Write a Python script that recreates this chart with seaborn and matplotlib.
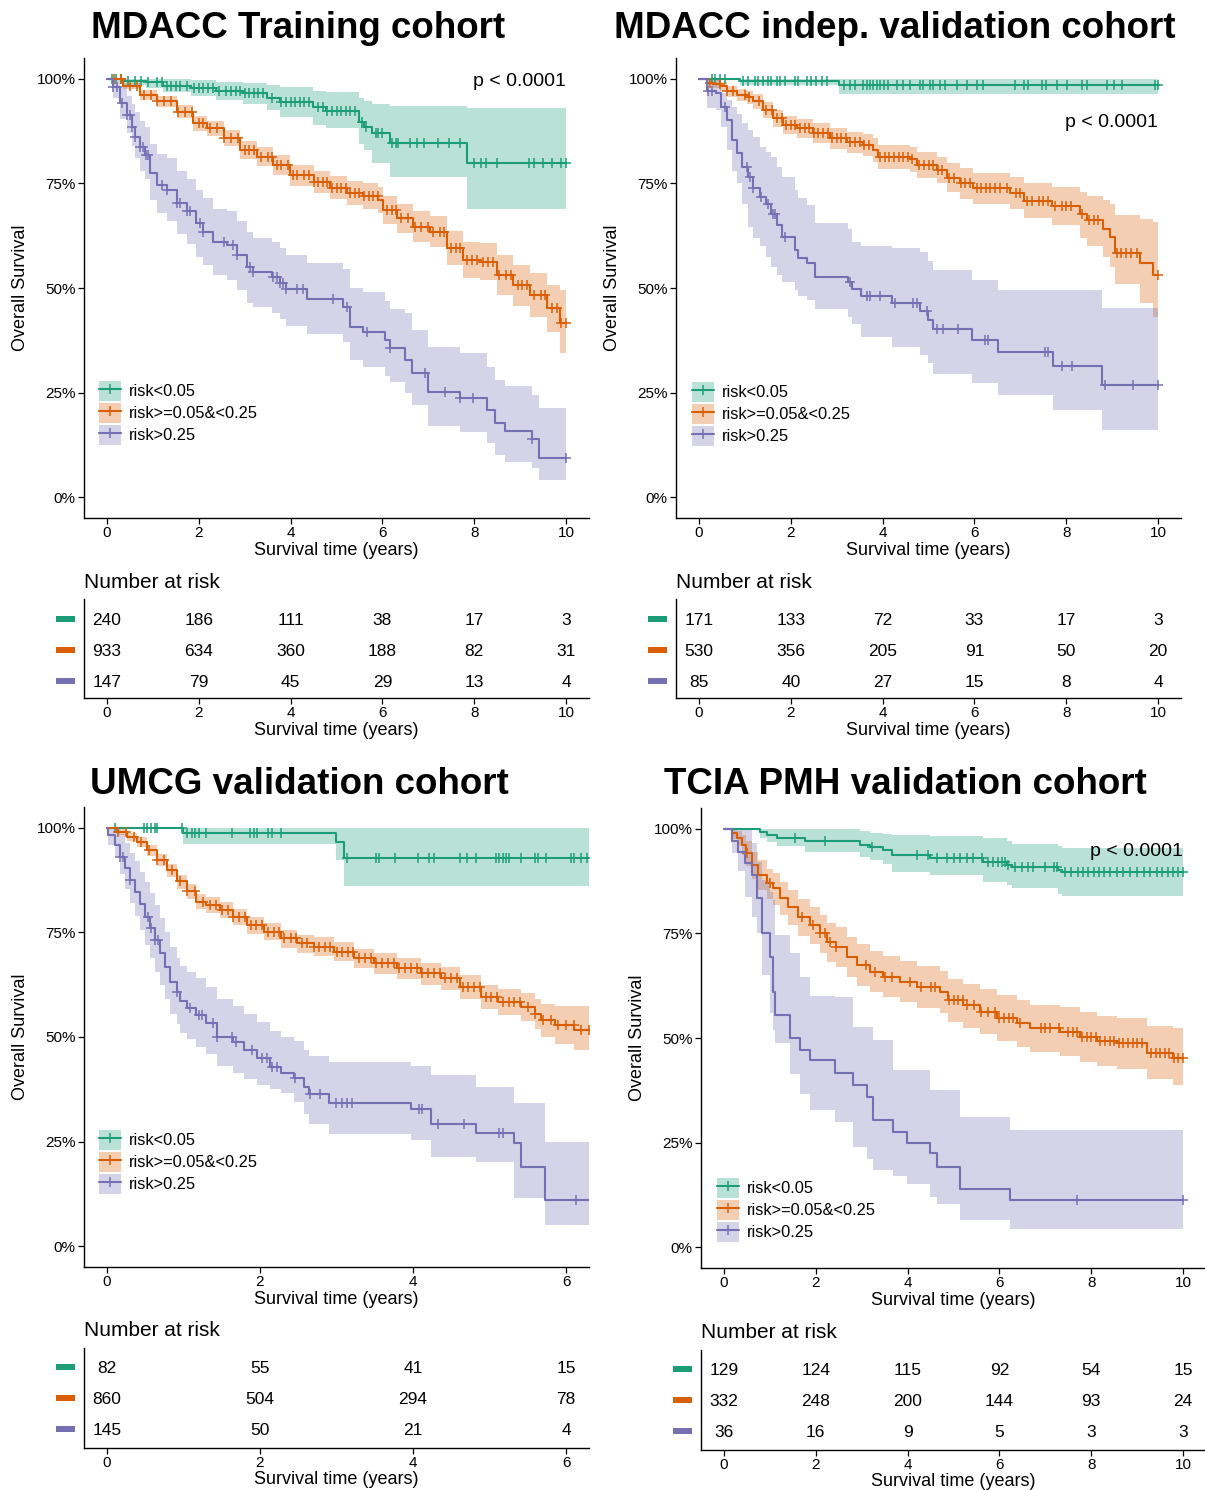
import numpy as np
import matplotlib
matplotlib.use("Agg")
import matplotlib.pyplot as plt
import seaborn as sns
from matplotlib.patches import Patch, Rectangle
from matplotlib.lines import Line2D
from matplotlib.legend_handler import HandlerTuple
import matplotlib.transforms as mtransforms

# ------------------------------------------------------------------ data
groups = ["risk<0.05", "risk>=0.05&<0.25", "risk>0.25"]
colors = ["#1B9E77", "#D95F02", "#7570B3"]

# ---- Panel 1: MDACC Training cohort
p1_g_t = [0, 0.36, 0.86, 1.23, 1.84, 2.38, 2.97, 3.48, 3.77, 4.49, 4.78, 5.48, 5.6, 5.77, 6.17, 7.84]
p1_g_s = [1.0, 0.995, 0.992, 0.983, 0.979, 0.972, 0.966, 0.955, 0.945, 0.934, 0.924, 0.898, 0.886, 0.871, 0.846, 0.80]
p1_g_lo = [1.0, 0.985, 0.978, 0.968, 0.96, 0.95, 0.94, 0.925, 0.91, 0.89, 0.883, 0.845, 0.83, 0.80, 0.766, 0.689]
p1_g_hi = [1.0, 1.0, 1.0, 1.0, 0.997, 0.993, 0.99, 0.985, 0.98, 0.972, 0.969, 0.955, 0.946, 0.94, 0.935, 0.93]
p1_g_c = [0.1, 0.2, 0.3, 0.45, 0.6, 0.75, 0.9, 1.1, 1.2, 1.3, 1.4, 1.5, 1.6, 1.75, 1.9, 2.0, 2.1, 2.2, 2.3,
          2.45, 2.6, 2.7, 2.8, 2.9, 3.0, 3.1, 3.2, 3.3, 3.4, 3.6, 3.8, 3.9, 4.0, 4.1, 4.2, 4.3, 4.4, 4.6, 4.7,
          4.8, 4.9, 5.0, 5.1, 5.2, 5.3, 5.4, 5.55, 5.65, 5.85, 5.9, 6.0, 6.2, 6.3, 6.35, 6.6, 6.75, 6.9, 7.2,
          7.45, 7.7, 8.0, 8.15, 8.25, 8.5, 9.2, 9.3, 9.5, 9.7, 9.9, 10.0]

p1_o_t = [0, 0.36, 0.72, 1.08, 1.52, 1.88, 2.17, 2.54, 2.90, 3.26, 3.62, 3.99, 4.50, 4.86, 5.22, 5.58, 5.91,
          6.02, 6.31, 6.67, 7.04, 7.40, 7.76, 8.13, 8.49, 8.85, 9.22, 9.58, 9.87]
p1_o_s = [1.0, 0.983, 0.962, 0.946, 0.922, 0.894, 0.882, 0.858, 0.830, 0.814, 0.794, 0.770, 0.754, 0.740, 0.728,
          0.720, 0.711, 0.687, 0.667, 0.647, 0.635, 0.595, 0.567, 0.563, 0.531, 0.507, 0.483, 0.451, 0.416]
p1_o_hi = [1.0, 0.991, 0.974, 0.960, 0.938, 0.912, 0.900, 0.877, 0.851, 0.836, 0.817, 0.795, 0.780, 0.768, 0.757,
           0.750, 0.742, 0.720, 0.702, 0.684, 0.673, 0.636, 0.610, 0.607, 0.578, 0.556, 0.535, 0.507, 0.495]
p1_o_lo = [1.0, 0.975, 0.950, 0.932, 0.906, 0.876, 0.864, 0.839, 0.809, 0.792, 0.771, 0.745, 0.728, 0.712, 0.699,
           0.690, 0.680, 0.654, 0.632, 0.610, 0.597, 0.554, 0.524, 0.519, 0.484, 0.458, 0.431, 0.395, 0.345]
p1_o_c = [0.15, 0.3, 0.5, 0.65, 0.8, 0.95, 1.1, 1.25, 1.4, 1.55, 1.7, 1.85, 2.0, 2.1, 2.25, 2.4, 2.55, 2.7, 2.85,
          3.0, 3.1, 3.2, 3.35, 3.5, 3.6, 3.7, 3.8, 3.95, 4.05, 4.15, 4.3, 4.4, 4.5, 4.6, 4.7, 4.8, 4.9, 5.0, 5.1,
          5.2, 5.3, 5.4, 5.5, 5.6, 5.7, 5.8, 5.9, 6.1, 6.2, 6.3, 6.4, 6.55, 6.7, 6.85, 7.0, 7.1, 7.25, 7.35, 7.5,
          7.6, 7.7, 7.85, 7.95, 8.05, 8.2, 8.3, 8.4, 8.55, 8.7, 8.8, 8.95, 9.05, 9.15, 9.3, 9.45, 9.55, 9.7, 9.8,
          9.9, 10.0]

p1_p_t = [0, 0.14, 0.28, 0.43, 0.54, 0.61, 0.72, 0.83, 0.94, 1.08, 1.30, 1.52, 1.74, 1.95, 2.10, 2.32, 2.61, 2.83,
          3.04, 3.19, 3.59, 3.77, 3.91, 4.35, 5.15, 5.30, 5.58, 6.06, 6.17, 6.49, 6.64, 7.00, 7.69, 8.27, 8.45,
          8.67, 9.25, 9.40]
p1_p_s = [1.0, 0.98, 0.942, 0.914, 0.886, 0.862, 0.838, 0.818, 0.774, 0.746, 0.734, 0.703, 0.683, 0.655, 0.635,
          0.611, 0.603, 0.579, 0.551, 0.539, 0.527, 0.511, 0.497, 0.473, 0.455, 0.407, 0.395, 0.376, 0.356, 0.328,
          0.297, 0.252, 0.236, 0.208, 0.176, 0.159, 0.140, 0.093]
p1_p_hi = [1.0, 1.0, 0.98, 0.96, 0.94, 0.92, 0.90, 0.885, 0.845, 0.82, 0.81, 0.78, 0.76, 0.735, 0.715, 0.69, 0.685,
           0.66, 0.635, 0.62, 0.61, 0.595, 0.58, 0.56, 0.545, 0.50, 0.49, 0.47, 0.45, 0.44, 0.40, 0.36, 0.345, 0.31,
           0.28, 0.265, 0.245, 0.212]
p1_p_lo = [1.0, 0.955, 0.905, 0.87, 0.84, 0.81, 0.78, 0.76, 0.71, 0.68, 0.66, 0.63, 0.605, 0.575, 0.555, 0.53,
           0.52, 0.495, 0.465, 0.455, 0.44, 0.425, 0.41, 0.39, 0.37, 0.328, 0.31, 0.29, 0.275, 0.248, 0.22, 0.17,
           0.155, 0.13, 0.10, 0.085, 0.07, 0.04]
p1_p_c = [0.14, 0.21, 0.32, 0.43, 0.50, 0.54, 0.61, 0.72, 0.79, 0.86, 0.90, 1.19, 1.30, 1.52, 1.59, 1.74, 1.81,
          2.03, 2.10, 2.54, 2.75, 2.83, 3.12, 3.19, 3.62, 3.70, 3.77, 3.84, 3.91, 4.13, 4.28, 4.93, 5.22, 5.66,
          6.17, 6.93, 7.36, 7.69, 7.98, 9.25, 10.0]

p1_risk = [[240, 186, 111, 38, 17, 3], [933, 634, 360, 188, 82, 31], [147, 79, 45, 29, 13, 4]]

# ---- Panel 2: MDACC indep. validation cohort
p2_g_t = [0, 0.89, 3.04]
p2_g_s = [1.0, 0.994, 0.985]
p2_g_lo = [1.0, 0.985, 0.963]
p2_g_hi = [1.0, 1.0, 1.0]
p2_g_c = [0.28, 0.35, 0.46, 0.57, 0.97, 1.07, 1.22, 1.29, 1.40, 1.51, 1.58, 1.69, 1.76, 1.87, 2.09, 2.16, 2.35,
          2.45, 2.56, 2.67, 2.78, 3.15, 3.29, 3.40, 3.58, 3.65, 3.72, 3.80, 3.87, 3.94, 4.02, 4.12, 4.31, 4.45,
          4.60, 4.81, 4.89, 5.03, 5.10, 5.25, 5.36, 5.61, 5.83, 6.05, 6.19, 6.88, 7.07, 7.17, 7.47, 7.57, 7.79,
          8.01, 8.34, 8.45, 8.88, 9.03, 9.21, 9.93, 10.0]

p2_o_t = [0, 0.17, 0.31, 0.46, 0.60, 0.82, 1.04, 1.18, 1.40, 1.62, 1.84, 2.13, 2.49, 2.85, 3.22, 3.58, 3.80, 3.91,
          4.60, 4.74, 5.18, 5.40, 5.69, 5.98, 6.78, 7.07, 7.68, 8.30, 8.45, 8.81, 8.95, 9.06, 9.61, 9.90]
p2_o_s = [1.0, 0.99, 0.988, 0.982, 0.97, 0.962, 0.956, 0.946, 0.926, 0.906, 0.890, 0.882, 0.870, 0.858, 0.848,
          0.842, 0.830, 0.814, 0.808, 0.794, 0.782, 0.764, 0.750, 0.738, 0.728, 0.709, 0.696, 0.678, 0.662, 0.642,
          0.623, 0.584, 0.559, 0.531]
p2_o_hi = [1.0, 0.998, 0.997, 0.993, 0.984, 0.977, 0.972, 0.963, 0.945, 0.926, 0.912, 0.905, 0.894, 0.883, 0.874,
           0.869, 0.858, 0.843, 0.838, 0.825, 0.814, 0.798, 0.786, 0.775, 0.766, 0.752, 0.742, 0.73, 0.72, 0.71,
           0.70, 0.675, 0.665, 0.659]
p2_o_lo = [1.0, 0.982, 0.979, 0.971, 0.956, 0.947, 0.94, 0.929, 0.907, 0.886, 0.868, 0.859, 0.846, 0.833, 0.822,
           0.815, 0.802, 0.785, 0.778, 0.763, 0.75, 0.73, 0.714, 0.701, 0.69, 0.667, 0.65, 0.62, 0.60, 0.575, 0.55,
           0.51, 0.465, 0.431]
p2_o_c = [0.25, 0.45, 0.6, 0.75, 1.0, 1.1, 1.3, 1.45, 1.6, 1.7, 1.8, 1.9, 2.0, 2.1, 2.2, 2.3, 2.4, 2.5, 2.6, 2.7,
          2.8, 2.9, 3.0, 3.1, 3.2, 3.3, 3.4, 3.5, 3.6, 3.7, 3.95, 4.05, 4.15, 4.25, 4.35, 4.45, 4.55, 4.65, 4.8,
          4.9, 5.0, 5.1, 5.2, 5.3, 5.45, 5.55, 5.7, 5.8, 5.9, 6.05, 6.15, 6.25, 6.35, 6.45, 6.55, 6.7, 6.9, 7.0,
          7.15, 7.25, 7.4, 7.5, 7.6, 7.75, 7.9, 8.0, 8.1, 8.35, 8.5, 8.6, 8.7, 9.1, 9.2, 9.3, 9.4, 9.55, 10.0]

p2_p_t = [0, 0.17, 0.38, 0.49, 0.60, 0.71, 0.82, 0.93, 1.07, 1.18, 1.33, 1.47, 1.58, 1.69, 1.80, 2.09, 2.16, 2.35,
          2.53, 3.25, 3.33, 3.54, 4.20, 4.81, 4.98, 5.10, 5.94, 6.52, 7.72, 8.77]
p2_p_s = [1.0, 0.97, 0.966, 0.934, 0.902, 0.854, 0.822, 0.790, 0.766, 0.738, 0.718, 0.702, 0.678, 0.650, 0.623,
          0.591, 0.571, 0.559, 0.527, 0.515, 0.497, 0.481, 0.463, 0.446, 0.423, 0.403, 0.375, 0.346, 0.313, 0.268]
p2_p_hi = [1.0, 1.0, 1.0, 0.966, 0.95, 0.934, 0.915, 0.895, 0.878, 0.86, 0.838, 0.825, 0.814, 0.79, 0.765, 0.735,
           0.715, 0.699, 0.655, 0.64, 0.611, 0.60, 0.595, 0.587, 0.565, 0.543, 0.519, 0.495, 0.495, 0.451]
p2_p_lo = [1.0, 0.93, 0.925, 0.886, 0.83, 0.78, 0.75, 0.70, 0.646, 0.62, 0.60, 0.575, 0.551, 0.53, 0.515, 0.495,
           0.482, 0.472, 0.45, 0.43, 0.415, 0.384, 0.36, 0.34, 0.32, 0.295, 0.272, 0.244, 0.208, 0.16]
p2_p_c = [0.20, 0.28, 0.57, 1.04, 1.11, 1.18, 1.36, 1.51, 1.62, 1.66, 1.87, 3.29, 3.65, 3.72, 3.94, 4.27, 4.67,
          4.74, 4.96, 5.18, 5.32, 5.65, 6.23, 6.30, 7.54, 7.61, 7.90, 8.12, 8.84, 9.46, 10.0]

p2_risk = [[171, 133, 72, 33, 17, 3], [530, 356, 205, 91, 50, 20], [85, 40, 27, 15, 8, 4]]

# ---- Panel 3: UMCG validation cohort
p3_g_t = [0, 1.0, 2.99, 3.10]
p3_g_s = [1.0, 0.987, 0.967, 0.927]
p3_g_lo = [1.0, 0.962, 0.923, 0.861]
p3_g_hi = [1.0, 1.0, 1.0, 1.0]
p3_g_c = [0.10, 0.48, 0.52, 0.58, 0.63, 0.65, 0.98, 1.04, 1.11, 1.15, 1.20, 1.30, 1.63, 1.87, 1.92, 1.96, 2.11,
          2.16, 2.27, 3.14, 3.51, 3.55, 3.77, 4.06, 4.21, 4.27, 4.62, 4.71, 4.82, 5.08, 5.13, 5.17, 5.22, 5.26,
          5.41, 5.59, 5.63, 5.74, 6.06, 6.11, 6.20, 6.28]

p3_o_t = [0, 0.13, 0.26, 0.39, 0.52, 0.65, 0.78, 0.91, 1.04, 1.17, 1.30, 1.48, 1.65, 1.83, 2.05, 2.27, 2.48, 2.70,
          2.97, 3.23, 3.49, 3.79, 4.10, 4.36, 4.62, 4.89, 5.11, 5.41, 5.59, 5.67, 5.85, 6.11]
p3_o_s = [1.0, 0.991, 0.979, 0.967, 0.947, 0.923, 0.899, 0.872, 0.848, 0.824, 0.816, 0.804, 0.788, 0.768, 0.752,
          0.736, 0.724, 0.716, 0.704, 0.688, 0.676, 0.664, 0.652, 0.640, 0.620, 0.596, 0.584, 0.572, 0.556, 0.540,
          0.528, 0.516]
p3_o_hi = [1.0, 0.997, 0.988, 0.978, 0.960, 0.937, 0.914, 0.888, 0.865, 0.841, 0.834, 0.822, 0.807, 0.788, 0.772,
           0.757, 0.745, 0.738, 0.726, 0.711, 0.700, 0.689, 0.678, 0.667, 0.648, 0.625, 0.615, 0.605, 0.592, 0.580,
           0.573, 0.573]
p3_o_lo = [1.0, 0.984, 0.969, 0.955, 0.933, 0.908, 0.883, 0.855, 0.830, 0.806, 0.797, 0.785, 0.768, 0.747, 0.731,
           0.714, 0.702, 0.693, 0.681, 0.664, 0.651, 0.638, 0.625, 0.612, 0.591, 0.566, 0.552, 0.538, 0.519, 0.499,
           0.484, 0.469]
p3_o_c = [0.15, 0.25, 0.35, 0.45, 0.55, 0.65, 0.75, 0.85, 0.95, 1.05, 1.15, 1.25, 1.35, 1.42, 1.5, 1.58, 1.65,
          1.72, 1.8, 1.88, 1.95, 2.02, 2.1, 2.18, 2.25, 2.32, 2.4, 2.47, 2.55, 2.62, 2.7, 2.77, 2.85, 2.92, 3.0,
          3.07, 3.15, 3.22, 3.3, 3.37, 3.45, 3.52, 3.6, 3.67, 3.75, 3.82, 3.9, 3.97, 4.05, 4.12, 4.2, 4.27, 4.35,
          4.42, 4.5, 4.57, 4.65, 4.72, 4.8, 4.87, 4.95, 5.02, 5.1, 5.17, 5.25, 5.32, 5.4, 5.5, 5.6, 5.7, 5.8, 5.9,
          6.0, 6.1, 6.2, 6.3]

p3_p_t = [0, 0.02, 0.10, 0.17, 0.24, 0.30, 0.37, 0.43, 0.50, 0.56, 0.63, 0.69, 0.76, 0.83, 0.91, 0.96, 1.04, 1.17,
          1.30, 1.44, 1.65, 1.79, 1.96, 2.13, 2.27, 2.44, 2.57, 2.64, 2.90, 3.97, 4.23, 4.82, 5.32, 5.41, 5.72]
p3_p_s = [1.0, 0.983, 0.959, 0.931, 0.903, 0.875, 0.847, 0.819, 0.788, 0.760, 0.732, 0.700, 0.668, 0.632, 0.608,
          0.585, 0.569, 0.553, 0.533, 0.501, 0.489, 0.469, 0.449, 0.429, 0.413, 0.401, 0.381, 0.364, 0.341, 0.329,
          0.293, 0.271, 0.246, 0.190, 0.110]
p3_p_hi = [1.0, 1.0, 1.0, 0.985, 0.965, 0.94, 0.92, 0.895, 0.87, 0.845, 0.815, 0.785, 0.75, 0.715, 0.69, 0.67,
           0.655, 0.64, 0.62, 0.59, 0.575, 0.555, 0.535, 0.515, 0.50, 0.49, 0.47, 0.455, 0.44, 0.43, 0.41, 0.381,
           0.341, 0.341, 0.249]
p3_p_lo = [1.0, 0.96, 0.93, 0.89, 0.855, 0.82, 0.79, 0.755, 0.72, 0.69, 0.655, 0.625, 0.59, 0.555, 0.53, 0.51,
           0.495, 0.475, 0.46, 0.43, 0.415, 0.40, 0.385, 0.375, 0.365, 0.345, 0.315, 0.293, 0.269, 0.253, 0.214,
           0.20, 0.114, 0.114, 0.05]
p3_p_c = [0.17, 0.21, 0.30, 0.54, 0.58, 0.63, 0.67, 0.91, 1.09, 1.20, 1.24, 1.39, 1.44, 1.63, 1.68, 1.89, 2.02,
          2.09, 2.16, 2.22, 2.46, 2.66, 2.79, 2.99, 3.07, 3.14, 3.20, 4.08, 4.12, 4.32, 4.67, 5.13, 5.17, 6.13]

p3_risk = [[82, 55, 41, 15], [860, 504, 294, 78], [145, 50, 21, 4]]

# ---- Panel 4: TCIA PMH validation cohort
p4_g_t = [0, 0.78, 0.93, 1.15, 1.76, 2.96, 3.18, 3.47, 3.65, 4.49, 5.65, 6.16, 6.27, 7.28, 7.36]
p4_g_s = [1.0, 0.992, 0.986, 0.978, 0.970, 0.962, 0.956, 0.950, 0.938, 0.930, 0.922, 0.914, 0.908, 0.902, 0.896]
p4_g_hi = [1.0, 1.0, 1.0, 1.0, 1.0, 0.995, 0.99, 0.988, 0.986, 0.982, 0.978, 0.970, 0.965, 0.958, 0.954]
p4_g_lo = [1.0, 0.978, 0.968, 0.958, 0.945, 0.932, 0.925, 0.915, 0.898, 0.890, 0.874, 0.865, 0.858, 0.845, 0.840]
p4_g_c = [1.55, 2.20, 3.22, 4.20, 4.45, 4.63, 4.85, 5.00, 5.14, 5.29, 5.43, 5.61, 5.76, 5.87, 5.98, 6.05, 6.12,
          6.19, 6.34, 6.49, 6.63, 6.74, 7.00, 7.18, 7.25, 7.43, 7.57, 7.72, 7.83, 7.94, 8.05, 8.16, 8.27, 8.41,
          8.56, 8.70, 8.85, 8.99, 9.14, 9.28, 9.43, 9.54, 9.68, 9.79, 9.90, 10.0]

p4_o_t = [0, 0.17, 0.28, 0.39, 0.49, 0.60, 0.75, 0.93, 1.07, 1.22, 1.40, 1.62, 1.87, 2.09, 2.24, 2.45, 2.67, 2.89,
          3.18, 3.47, 3.83, 4.20, 4.71, 4.89, 5.21, 5.58, 5.94, 6.38, 6.67, 7.32, 7.76, 8.12, 8.56, 9.21, 9.79]
p4_o_s = [1.0, 0.99, 0.978, 0.962, 0.942, 0.914, 0.890, 0.870, 0.858, 0.834, 0.814, 0.790, 0.770, 0.750, 0.730,
          0.718, 0.694, 0.675, 0.659, 0.647, 0.635, 0.623, 0.610, 0.590, 0.578, 0.563, 0.547, 0.535, 0.523, 0.515,
          0.503, 0.493, 0.487, 0.465, 0.451]
p4_o_hi = [1.0, 1.0, 0.995, 0.985, 0.97, 0.945, 0.925, 0.905, 0.895, 0.873, 0.855, 0.833, 0.814, 0.795, 0.776,
           0.765, 0.742, 0.724, 0.708, 0.695, 0.684, 0.673, 0.66, 0.641, 0.63, 0.616, 0.602, 0.591, 0.58, 0.573,
           0.562, 0.553, 0.548, 0.528, 0.523]
p4_o_lo = [1.0, 0.975, 0.958, 0.938, 0.912, 0.88, 0.853, 0.832, 0.818, 0.793, 0.771, 0.745, 0.724, 0.703, 0.682,
           0.669, 0.645, 0.625, 0.609, 0.597, 0.585, 0.572, 0.559, 0.538, 0.525, 0.509, 0.492, 0.479, 0.466, 0.457,
           0.443, 0.432, 0.425, 0.401, 0.388]
p4_o_c = [0.5, 1.0, 1.7, 1.95, 2.1, 2.2, 2.3, 2.45, 3.1, 3.3, 3.5, 3.65, 4.05, 4.3, 4.5, 4.6, 4.9, 5.0, 5.1, 5.2,
          5.3, 5.45, 5.6, 5.75, 5.9, 6.0, 6.1, 6.2, 6.3, 6.45, 6.9, 7.0, 7.1, 7.3, 7.5, 7.6, 7.7, 7.8, 7.9, 8.0,
          8.1, 8.2, 8.3, 8.4, 8.5, 8.6, 8.7, 8.8, 8.9, 9.0, 9.1, 9.3, 9.4, 9.5, 9.6, 9.7, 9.8, 9.9, 10.0]

p4_p_t = [0, 0.17, 0.31, 0.45, 0.60, 0.71, 0.82, 1.00, 1.07, 1.11, 1.44, 1.66, 1.87, 2.42, 2.82, 3.11, 3.25, 3.69,
          3.98, 4.49, 4.63, 5.14, 6.23]
p4_p_s = [1.0, 0.972, 0.944, 0.918, 0.89, 0.834, 0.750, 0.694, 0.610, 0.555, 0.500, 0.472, 0.448, 0.416, 0.388,
          0.360, 0.304, 0.276, 0.248, 0.224, 0.192, 0.140, 0.112]
p4_p_hi = [1.0, 1.0, 1.0, 1.0, 0.966, 0.92, 0.878, 0.85, 0.83, 0.746, 0.703, 0.646, 0.60, 0.599, 0.527, 0.527,
           0.495, 0.423, 0.423, 0.375, 0.375, 0.312, 0.28]
p4_p_lo = [1.0, 0.942, 0.90, 0.838, 0.79, 0.75, 0.65, 0.559, 0.52, 0.487, 0.415, 0.367, 0.328, 0.30, 0.24, 0.21,
           0.184, 0.17, 0.152, 0.12, 0.104, 0.064, 0.044]
p4_p_c = [7.68, 10.0]

p4_risk = [[129, 124, 115, 92, 54, 15], [332, 248, 200, 144, 93, 24], [36, 16, 9, 5, 3, 3]]

titles = ["MDACC Training cohort", "MDACC indep. validation cohort",
          "UMCG validation cohort", "TCIA PMH validation cohort"]
pvals = ["p < 0.0001", "p < 0.0001", None, "p < 0.0001"]
ticks_10 = [0, 2, 4, 6, 8, 10]
ticks_6 = [0, 2, 4, 6]

# ------------------------------------------------------------------ style
sns.set_style("ticks")
plt.rcParams["font.family"] = ["Liberation Sans", "DejaVu Sans"]
for key in ("text.color", "axes.labelcolor", "xtick.color", "ytick.color", "axes.edgecolor"):
    plt.rcParams[key] = "black"

W, H = 1205, 1490
fig = plt.figure(figsize=(W / 100, H / 100), dpi=100)


def px_axes(l, t, r, b):
    return fig.add_axes([l / W, 1 - b / H, (r - l) / W, (b - t) / H])


def style_axes(ax):
    sns.despine(ax=ax)
    for sp in ("left", "bottom"):
        ax.spines[sp].set_linewidth(1.0)
        ax.spines[sp].set_color("black")
    ax.tick_params(length=4, width=0.9, labelsize=11, pad=2, colors="black")


def draw_panel(cfg):
    ax = px_axes(*cfg["km_box"])
    tend = cfg["tend"]
    prepared = []
    for (t, s, lo, hi, cens), col in zip(cfg["curves"], colors):
        tt = np.r_[t, tend]
        ss = np.r_[s, s[-1]]
        ll = np.r_[lo, lo[-1]]
        hh = np.r_[hi, hi[-1]]
        prepared.append((tt, ss, ll, hh, np.asarray(cens), col))
    for tt, ss, ll, hh, cens, col in prepared:
        ax.fill_between(tt, ll, hh, step="post", color=col, alpha=0.3, lw=0)
    for tt, ss, ll, hh, cens, col in prepared:
        sns.lineplot(x=tt, y=ss, drawstyle="steps-post", estimator=None, sort=False,
                     color=col, lw=1.5, ax=ax)
        idx = np.searchsorted(tt, cens, side="right") - 1
        ax.plot(cens, ss[idx], ls="none", marker="+", ms=7, mew=1.1, color=col)
    ax.set_xlim(cfg["xlim"])
    ax.set_ylim(-0.05, 1.05)
    ax.set_xticks(cfg["ticks"])
    ax.set_yticks([0, 0.25, 0.5, 0.75, 1.0])
    ax.set_yticklabels(["0%", "25%", "50%", "75%", "100%"])
    style_axes(ax)
    ax.set_xlabel("Survival time (years)", fontsize=13)
    ax.xaxis.set_label_coords(0.5, -0.0696)
    ax.xaxis.label.set_va("center")
    ax.set_ylabel("Overall Survival", fontsize=13)
    ax.yaxis.set_label_coords(cfg["ylab_x"], 0.5)
    ax.yaxis.label.set_va("center")
    if cfg["pval"]:
        ax.text(cfg["tick_max"], cfg["pval_y"], cfg["pval"], ha="right", va="center", fontsize=14)
    handles = [(Patch(facecolor=c, alpha=0.3, edgecolor="none"),
                Line2D([], [], color=c, lw=1.5, marker="+", ms=7, mew=1.1)) for c in colors]
    ax.legend(handles, groups, handler_map={tuple: HandlerTuple(ndivide=1, pad=0)},
              loc="upper left", bbox_to_anchor=cfg["leg"], frameon=False, fontsize=11.8,
              handlelength=1.35, handleheight=1.5, labelspacing=0.12, handletextpad=0.5,
              borderaxespad=0, borderpad=0)

    # risk table
    tb = px_axes(*cfg["tab_box"])
    tb.set_xlim(cfg["xlim"])
    tb.set_ylim(cfg["tab_ylim"])
    tb.set_xticks(cfg["ticks"])
    tb.set_yticks([])
    style_axes(tb)
    trans = mtransforms.blended_transform_factory(tb.transAxes, tb.transData)
    for r, (vals, col) in enumerate(zip(cfg["risk"], colors)):
        y = 3 - r
        for tx, v in zip(cfg["ticks"], vals):
            tb.text(tx, y - 0.06, str(v), ha="center", va="center", fontsize=12.5, color="black")
        tb.add_patch(Rectangle((-0.055, y - 0.09), 0.037, 0.18, transform=trans,
                               facecolor=col, edgecolor="none", clip_on=False))
    tb.set_xlabel("Survival time (years)", fontsize=13)
    tb.xaxis.set_label_coords(0.5, -0.3226)
    tb.xaxis.label.set_va("center")
    tb.text(0, cfg["nar_y"], "Number at risk", transform=tb.transAxes, ha="left", va="center",
            fontsize=15)

    fig.text(cfg["title_xy"][0] / W, 1 - cfg["title_xy"][1] / H, cfg["title"], ha="center",
             va="center", fontsize=26.5, fontweight="bold")


panels = [
    dict(curves=[(p1_g_t, p1_g_s, p1_g_lo, p1_g_hi, p1_g_c), (p1_o_t, p1_o_s, p1_o_lo, p1_o_hi, p1_o_c),
                 (p1_p_t, p1_p_s, p1_p_lo, p1_p_hi, p1_p_c)],
         risk=p1_risk, km_box=(84, 58, 589, 518), tab_box=(84, 598.8, 589, 698), tab_ylim=(0.45, 3.65),
         xlim=(-0.5, 10.5), ticks=ticks_10, tick_max=10, tend=10.0, pval=pvals[0], pval_y=0.995,
         leg=(0.0297, 0.2978), title=titles[0], title_xy=(298, 28), ylab_x=-0.1267, nar_y=1.169),
    dict(curves=[(p2_g_t, p2_g_s, p2_g_lo, p2_g_hi, p2_g_c), (p2_o_t, p2_o_s, p2_o_lo, p2_o_hi, p2_o_c),
                 (p2_p_t, p2_p_s, p2_p_lo, p2_p_hi, p2_p_c)],
         risk=p2_risk, km_box=(676, 58, 1181, 518), tab_box=(676, 598.8, 1181, 698), tab_ylim=(0.45, 3.65),
         xlim=(-0.5, 10.5), ticks=ticks_10, tick_max=10, tend=10.0, pval=pvals[1], pval_y=0.895,
         leg=(0.0317, 0.2957), title=titles[1], title_xy=(895, 28), ylab_x=-0.1267, nar_y=1.169),
    dict(curves=[(p3_g_t, p3_g_s, p3_g_lo, p3_g_hi, p3_g_c), (p3_o_t, p3_o_s, p3_o_lo, p3_o_hi, p3_o_c),
                 (p3_p_t, p3_p_s, p3_p_lo, p3_p_hi, p3_p_c)],
         risk=p3_risk, km_box=(84, 807, 589, 1267), tab_box=(84, 1348.4, 589, 1447.6), tab_ylim=(0.4, 3.6),
         xlim=(-0.3, 6.3), ticks=ticks_6, tick_max=6, tend=6.3, pval=pvals[2], pval_y=1.0,
         leg=(0.0297, 0.2978), title=titles[2], title_xy=(299, 785), ylab_x=-0.1267, nar_y=1.185),
    dict(curves=[(p4_g_t, p4_g_s, p4_g_lo, p4_g_hi, p4_g_c), (p4_o_t, p4_o_s, p4_o_lo, p4_o_hi, p4_o_c),
                 (p4_p_t, p4_p_s, p4_p_lo, p4_p_hi, p4_p_c)],
         risk=p4_risk, km_box=(701, 808, 1206, 1268), tab_box=(701, 1350.4, 1206, 1449.6), tab_ylim=(0.4, 3.6),
         xlim=(-0.5, 10.5), ticks=ticks_10, tick_max=10, tend=10.0, pval=pvals[3], pval_y=0.945,
         leg=(0.0317, 0.1957), title=titles[3], title_xy=(905, 785), ylab_x=-0.1248, nar_y=1.185),
]

for cfg in panels:
    draw_panel(cfg)

fig.savefig("out.png", dpi=100, facecolor="white")
